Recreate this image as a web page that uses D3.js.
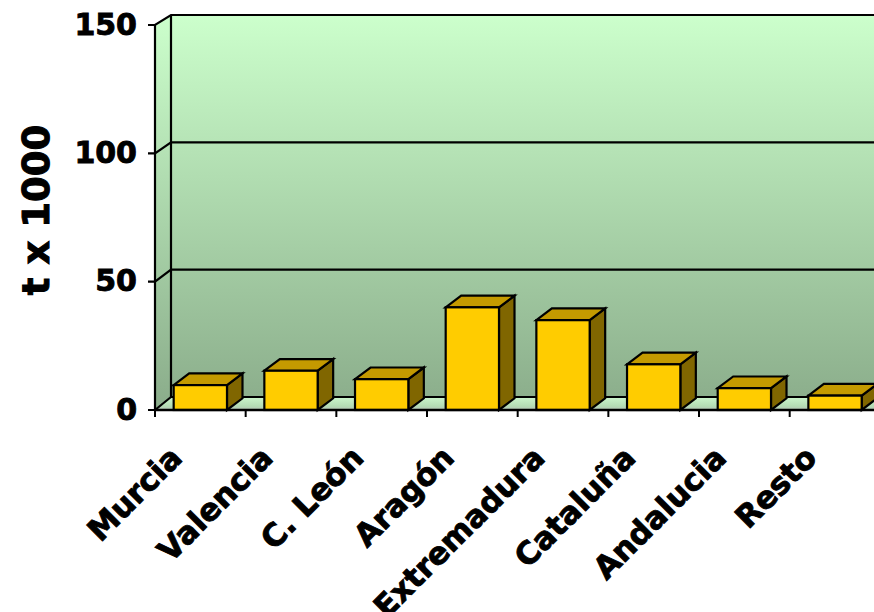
<!DOCTYPE html>
<html><head><meta charset="utf-8">
<script src="https://cdn.jsdelivr.net/npm/d3@7"></script>
<style>html,body{margin:0;padding:0;background:#fff;}svg{display:block;}</style>
</head><body>
<script>
const categories = ["Murcia","Valencia","C. León","Aragón","Extremadura","Cataluña","Andalucia","Resto"];
const values = [9.7, 15.3, 12, 40, 35, 17.8, 8.5, 5.6];
const yTicks = [0, 50, 100, 150];
const yTitle = "t x 1000";

const W = 874, H = 612;
const svg = d3.select("body").append("svg").attr("width", W).attr("height", H);
const font = "'DejaVu Sans', Verdana, sans-serif";

const x0 = 155, step = 90.67, xEnd = x0 + step * categories.length;
const DX = 16;
const x = d3.scaleBand().domain(categories).range([x0, xEnd]).paddingInner(0.412).paddingOuter(0.206);
const yF = d3.scaleLinear().domain([0,150]).range([410, 25]);   // front plane
const yB = d3.scaleLinear().domain([0,150]).range([397, 15]);   // back wall
const bdx = 15.5, bdy = 11.7;

const defs = svg.append("defs");
const g1 = defs.append("linearGradient").attr("id","wall").attr("gradientUnits","userSpaceOnUse")
  .attr("x1",0).attr("y1",yB(150)).attr("x2",0).attr("y2",yF(0));
g1.append("stop").attr("offset","0%").attr("stop-color","#CCFFCC");
g1.append("stop").attr("offset","100%").attr("stop-color","#8AAC8A");
const g2 = defs.append("linearGradient").attr("id","floor").attr("x1",0).attr("y1",0).attr("x2",0).attr("y2",1);
g2.append("stop").attr("offset","0%").attr("stop-color","#CCF5CC");
g2.append("stop").attr("offset","70%").attr("stop-color","#B4DCB4");
g2.append("stop").attr("offset","100%").attr("stop-color","#B8C4B8");

const bx = x0 + DX;
svg.append("rect").attr("x", bx).attr("y", yB(150)).attr("width", xEnd + DX - bx).attr("height", yB(0) - yB(150))
  .attr("fill","url(#wall)");
svg.append("path").attr("d", `M${x0},${yF(150)}L${bx},${yB(150)}L${bx},${yB(0)}L${x0},${yF(0)}Z`)
  .attr("fill","url(#wall)");
svg.append("path").attr("d", `M${x0},${yF(0)}L${bx},${yB(0)}L${xEnd+DX},${yB(0)}L${xEnd},${yF(0)}Z`)
  .attr("fill","url(#floor)");

yTicks.forEach(t => {
  svg.append("path").attr("d", `M${x0-7},${yF(t)}L${x0},${yF(t)}L${bx},${yB(t)}L${xEnd+DX},${yB(t)}`)
    .attr("fill","none").attr("stroke","#000").attr("stroke-width",2.2);
});
svg.append("line").attr("x1",bx).attr("x2",bx).attr("y1",yB(150)).attr("y2",yB(0)).attr("stroke","#000").attr("stroke-width",2.2);
svg.append("line").attr("x1",x0).attr("x2",x0).attr("y1",yF(150)).attr("y2",yF(0)+1).attr("stroke","#000").attr("stroke-width",2.2);

const bars = svg.append("g");
categories.forEach((c, i) => {
  const v = values[i];
  const xl = x(c), w = x.bandwidth(), yt = yF(v), yb = yF(0);
  const g = bars.append("g").attr("stroke","#000").attr("stroke-width",2.2).attr("stroke-linejoin","miter");
  g.append("path").attr("d", `M${xl+w},${yt}L${xl+w+bdx},${yt-bdy}L${xl+w+bdx},${yb-bdy}L${xl+w},${yb}Z`).attr("fill","#806600");
  g.append("path").attr("d", `M${xl},${yt}L${xl+bdx},${yt-bdy}L${xl+w+bdx},${yt-bdy}L${xl+w},${yt}Z`).attr("fill","#C49A00");
  g.append("rect").attr("x",xl).attr("y",yt).attr("width",w).attr("height",yb-yt).attr("fill","#FFCC00");
});

svg.append("line").attr("x1",x0-1).attr("x2",xEnd).attr("y1",yF(0)).attr("y2",yF(0)).attr("stroke","#000").attr("stroke-width",2.6);
for (let i = 0; i <= categories.length; i++) {
  const tx = x0 + i * x.step();
  svg.append("line").attr("x1",tx).attr("x2",tx).attr("y1",yF(0)).attr("y2",yF(0)+7).attr("stroke","#000").attr("stroke-width",2);
}

svg.append("g").selectAll("text").data(yTicks).join("text")
  .attr("x", 137).attr("y", d => yF(d) - 1).attr("dy","0.36em")
  .attr("text-anchor","end").attr("font-family",font).attr("font-weight","bold").attr("font-size",30)
  .attr("stroke","#000").attr("stroke-width",0.9)
  .text(d => d);

svg.append("g").selectAll("text").data(categories).join("text")
  .attr("transform", d => `translate(${x(d) + x.bandwidth()/2 - 23},${453}) rotate(-45)`)
  .attr("dy","0.3em")
  .attr("text-anchor","end").attr("font-family",font).attr("font-weight","bold").attr("font-size",31)
  .attr("stroke","#000").attr("stroke-width",0.9)
  .text(d => d);

svg.append("text").attr("transform","translate(36,210) rotate(-90)").attr("dy","0.36em")
  .attr("text-anchor","middle").attr("font-family",font).attr("font-weight","bold").attr("font-size",37)
  .attr("stroke","#000").attr("stroke-width",1)
  .text(yTitle);
</script>
</body></html>
